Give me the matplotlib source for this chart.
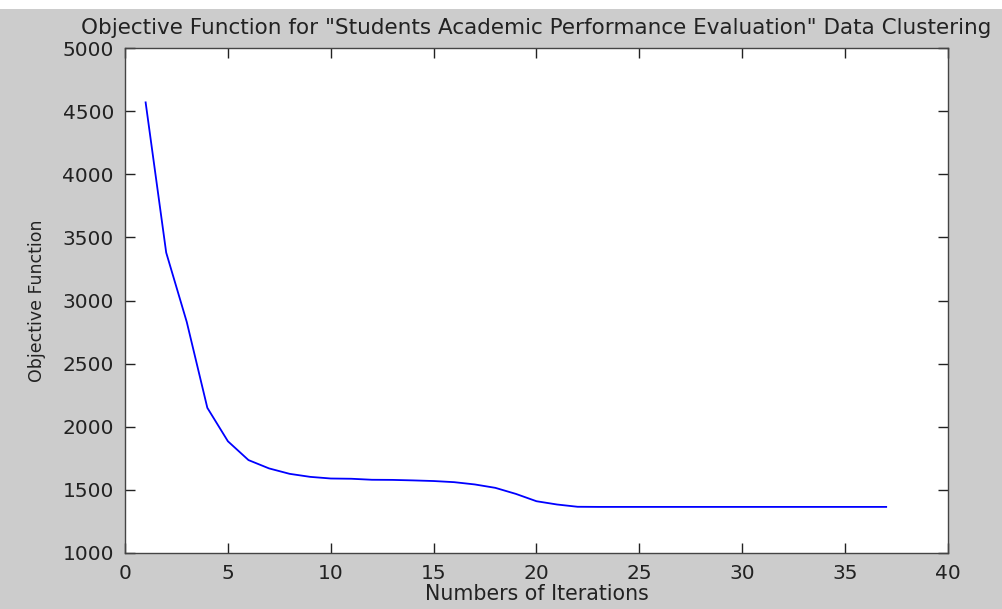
import numpy as np
import matplotlib
matplotlib.use("Agg")
import matplotlib.pyplot as plt
from matplotlib.patches import Rectangle

# objective function value per iteration
iterations = list(range(1, 38))
objective = [4570, 3380, 2830, 2150, 1885, 1736, 1670, 1627, 1603, 1590,
             1588, 1580, 1579, 1575, 1570, 1561, 1543, 1516, 1468, 1410,
             1384, 1366] + [1365] * 15

BG = "#cccccc"
plt.rcParams.update({
    "font.family": "DejaVu Sans", "font.size": 13,
    "xtick.direction": "in", "ytick.direction": "in",
    "xtick.top": True, "ytick.right": True,
})

fig = plt.figure(figsize=(10.02, 6.09), dpi=100, facecolor=BG)
# thin white strip along the top edge of the screenshot
fig.patches.append(Rectangle((0, 1 - 9/609), 1, 9/609, transform=fig.transFigure,
                             facecolor="white", edgecolor="none"))
ax = fig.add_axes([0.1248, 0.092, 0.8212, 0.829])
ax.plot(iterations, objective, color="#0000ff", lw=1.3)
ax.set_xlim(0, 40); ax.set_ylim(1000, 5000)
ax.set_xticks(range(0, 41, 5)); ax.set_yticks(range(1000, 5001, 500))
ax.tick_params(length=7, width=1, colors="#222222", labelsize=14.5)
ax.tick_params(axis="x", pad=8)
ax.tick_params(axis="y", pad=8)
for s in ax.spines.values():
    s.set_color("#444444"); s.set_linewidth(1)
ax.set_title('Objective Function for "Students Academic Performance Evaluation" Data Clustering',
             fontsize=15.5, color="#222222", pad=10)
ax.set_xlabel("Numbers of Iterations", fontsize=14.8, color="#222222", labelpad=1)
ax.set_ylabel("Objective Function", fontsize=12.5, color="#222222", labelpad=12)
fig.savefig("out.png", dpi=100, facecolor=BG)
